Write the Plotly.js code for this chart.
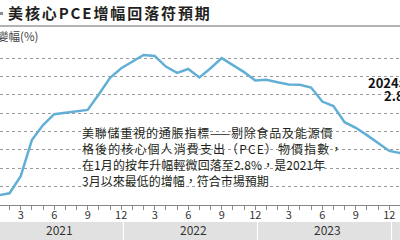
<!DOCTYPE html>
<html>
<head>
<meta charset="utf-8">
<script src="https://cdn.plot.ly/plotly-3.0.1.min.js"></script>
<style>
  html, body { margin: 0; padding: 0; background: #fff; }
  #chart { width: 400px; height: 240px; }
  .gtitle { letter-spacing: 1.9px; }
  .annotation[data-index="0"] text { letter-spacing: 0.8px; }
  .annotation[data-index="1"] text { letter-spacing: 1.1px; }
  .annotation[data-index="2"] text { letter-spacing: 0.1px; }
</style>
</head>
<body>
<div id="chart"></div>
<script>
// ---- data ----
const months = [
  '2021-01','2021-02','2021-03','2021-04','2021-05','2021-06','2021-07','2021-08','2021-09','2021-10','2021-11','2021-12',
  '2022-01','2022-02','2022-03','2022-04','2022-05','2022-06','2022-07','2022-08','2022-09','2022-10','2022-11','2022-12',
  '2023-01','2023-02','2023-03','2023-04','2023-05','2023-06','2023-07','2023-08','2023-09','2023-10','2023-11','2023-12',
  '2024-01'
];
const coreYoY = [
  1.59, 1.65, 2.14, 3.17, 3.60, 3.91, 3.95, 3.98, 4.03, 4.48, 4.95, 5.22,
  5.41, 5.60, 5.57, 5.27, 5.09, 5.20, 4.96, 5.22, 5.51, 5.31, 5.11, 4.87,
  4.89, 4.82, 4.76, 4.75, 4.67, 4.27, 4.14, 3.68, 3.52, 3.31, 3.08, 2.86,
  2.80
];
const years = ['2021', '2022', '2023', '2024'];
const titleText = '美核心PCE增幅回落符預期';
const yTitle = '變幅(%)';
const noteLines = [
  '美聯儲重視的通脹指標——剔除食品及能源價',
  '格後的核心個人消費支出（PCE）物價指數，',
  '在1月的按年升幅輕微回落至2.8%，是2021年',
  '3月以來最低的增幅，符合市場預期'
];
const latestLabel = '2024年1月';
const latestValue = '2.8%';

// ---- layout helpers ----
const W = 400, H = 240, mT = 41, mB = 35;
const plotH = H - mT - mB;
const px = p => p / W;                 // pixel x -> paper x
const py = p => (H - mB - p) / plotH;  // pixel y -> paper y
const CJK = '"Noto Sans CJK TC", "Noto Sans", sans-serif';

const tickText = months.map(m => {
  const mo = +m.slice(5);
  return mo % 3 === 0 ? String(mo) : '';
});

const last = months.length - 1;

const traces = [
  {
    x: months, y: coreYoY, type: 'scatter', mode: 'lines',
    line: { color: '#62afd6', width: 2.5 },
    hoverinfo: 'skip'
  },
  {
    x: [months[last]], y: [coreYoY[last]], type: 'scatter', mode: 'markers',
    marker: { size: 9, color: '#fff', line: { color: '#222', width: 1.5 } },
    cliponaxis: false, hoverinfo: 'skip'
  }
];

const shapes = [
  // rule under title
  { type: 'line', xref: 'paper', yref: 'paper', x0: 0, x1: 1, y0: py(26), y1: py(26),
    line: { color: '#9a9a9a', width: 1.5 } },
  // small grey mark left of title
  { type: 'rect', xref: 'paper', yref: 'paper', x0: px(-1), x1: px(3), y0: py(15), y1: py(12),
    fillcolor: '#8a8a8a', line: { width: 0 } },
  // white box behind note
  { type: 'rect', xref: 'paper', yref: 'paper', layer: 'between',
    x0: px(76), x1: px(328), y0: py(119), y1: py(195),
    fillcolor: '#fff', line: { width: 0 } },
  // white box behind latest label
  { type: 'rect', xref: 'paper', yref: 'paper', layer: 'between',
    x0: px(363), x1: px(402), y0: py(72), y1: py(101),
    fillcolor: '#fff', line: { width: 0 } }
];
// year bands
years.forEach((yr, i) => {
  shapes.push({
    type: 'rect', xref: 'x', yref: 'paper', layer: 'below',
    x0: i * 12 - 0.75, x1: i * 12 + 11.15, y0: py(240), y1: py(222),
    fillcolor: '#e1e1e1', line: { width: 0 }
  });
});

const noteY = [132.3, 148.3, 164.3, 180.2];
const annotations = noteLines.map((t, i) => ({
  xref: 'paper', yref: 'paper', x: px(80), y: py(noteY[i]), xanchor: 'left', yanchor: 'middle',
  align: 'left', text: t, showarrow: false,
  font: { family: CJK, size: 12, color: '#231f20' }
}));
annotations.push(
  { xref: 'paper', yref: 'paper', x: px(-5), y: py(36), xanchor: 'left', yanchor: 'middle',
    text: yTitle, showarrow: false, font: { family: CJK, size: 11.5, color: '#444' } },
  { xref: 'paper', yref: 'paper', x: px(400), y: py(82), xanchor: 'center', yanchor: 'middle',
    text: '<b>' + latestLabel + '</b>', showarrow: false,
    font: { family: CJK, size: 13, color: '#111' } },
  { xref: 'paper', yref: 'paper', x: px(400), y: py(95.5), xanchor: 'center', yanchor: 'middle',
    text: '<b>' + latestValue + '</b>', showarrow: false,
    font: { family: CJK, size: 13, color: '#111' } }
);
years.forEach((yr, i) => {
  annotations.push({
    xref: 'x', yref: 'paper', x: i * 12 + 5.5, y: py(229.5), xanchor: 'center', yanchor: 'middle',
    text: yr, showarrow: false, font: { family: CJK, size: 12, color: '#333' }
  });
});

const layout = {
  width: W, height: H,
  margin: { l: 0, r: 0, t: mT, b: mB, pad: 0 },
  paper_bgcolor: '#fff', plot_bgcolor: '#fff',
  showlegend: false,
  title: {
    text: '<b>' + titleText + '</b>',
    x: px(8), xref: 'paper', xanchor: 'left',
    y: 1 - 14 / H, yref: 'container', yanchor: 'middle',
    font: { family: CJK, size: 15, color: '#231f20' }
  },
  xaxis: {
    type: 'category',
    range: [0.147, 35.96],
    tickmode: 'array', tickvals: months, ticktext: tickText,
    ticks: 'outside', ticklen: 4, tickcolor: '#888', tickwidth: 1,
    ticklabelstandoff: -4,
    showline: true, linecolor: '#888', linewidth: 1,
    showgrid: false, zeroline: false,
    tickfont: { family: CJK, size: 11, color: '#333' }
  },
  yaxis: {
    range: [1.3143, 6.0],
    showticklabels: false, ticks: '',
    tick0: 2.8914, dtick: 0.52286,
    showgrid: true, gridcolor: '#9a9a9a', gridwidth: 1, griddash: 'dot',
    zeroline: false, showline: false
  },
  shapes: shapes,
  annotations: annotations
};

Plotly.newPlot('chart', traces, layout, { staticPlot: true, displayModeBar: false });
</script>
</body>
</html>
